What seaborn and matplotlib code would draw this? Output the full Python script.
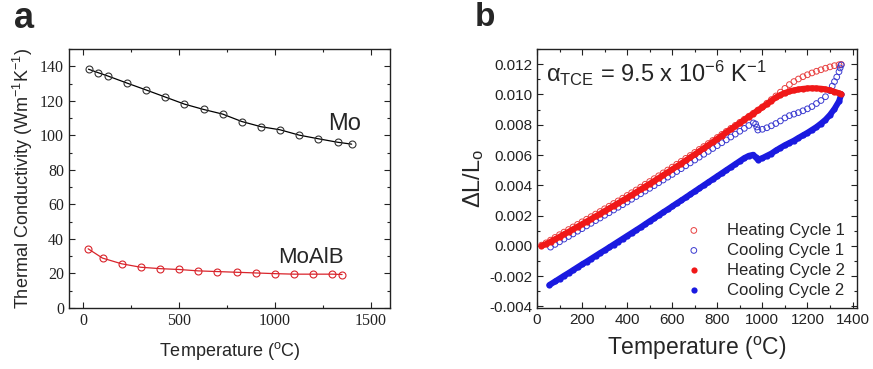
import numpy as np
import matplotlib
matplotlib.use("Agg")
import matplotlib.pyplot as plt
import seaborn as sns
from matplotlib.ticker import MultipleLocator, FormatStrFormatter

# panel a: thermal conductivity (W/mK)
mo_temp = [27, 77, 127, 227, 327, 427, 527, 627, 727, 827, 927, 1027, 1127, 1227, 1327, 1400]
mo_k = [138.3, 136.3, 134.4, 130.3, 126.3, 122.2, 118.1, 115.0, 112.3, 108.0, 105.0, 103.2,
        100.1, 98.0, 96.0, 94.9]
moalb_temp = [25, 100, 200, 300, 400, 500, 600, 700, 800, 900, 1000, 1100, 1200, 1300, 1350]
moalb_k = [34.3, 28.9, 25.6, 23.6, 22.8, 22.3, 21.5, 21.1, 20.7, 20.3, 19.9, 19.6, 19.6, 19.6, 19.4]

# panel b: dL/L0 (units of 1e-3)
heat_temp = list(range(20, 1341, 20)) + [1350]
heat1 = [0.05, 0.20, 0.38, 0.56, 0.74, 0.91, 1.08, 1.25, 1.42, 1.59,
         1.76, 1.93, 2.10, 2.27, 2.45, 2.62, 2.80, 2.97, 3.15, 3.33,
         3.51, 3.69, 3.88, 4.07, 4.25, 4.44, 4.63, 4.82, 5.01, 5.20,
         5.39, 5.58, 5.78, 5.97, 6.17, 6.37, 6.56, 6.76, 6.96, 7.16,
         7.36, 7.56, 7.76, 7.96, 8.16, 8.36, 8.56, 8.76, 8.97, 9.18,
         9.42, 9.66, 9.90, 10.15, 10.40, 10.65, 10.85, 11.02, 11.17, 11.30,
         11.42, 11.53, 11.63, 11.73, 11.82, 11.90, 11.96, 11.98]
heat2 = [0.00, 0.12, 0.28, 0.44, 0.60, 0.77, 0.93, 1.10, 1.27, 1.44,
         1.61, 1.78, 1.95, 2.12, 2.30, 2.47, 2.65, 2.82, 3.00, 3.18,
         3.36, 3.54, 3.73, 3.92, 4.10, 4.29, 4.48, 4.67, 4.86, 5.05,
         5.25, 5.44, 5.64, 5.84, 6.04, 6.24, 6.45, 6.65, 6.86, 7.07,
         7.28, 7.49, 7.70, 7.91, 8.12, 8.33, 8.54, 8.74, 8.95, 9.15,
         9.37, 9.59, 9.80, 9.97, 10.10, 10.20, 10.27, 10.33, 10.37, 10.40,
         10.41, 10.40, 10.38, 10.34, 10.27, 10.18, 10.08, 10.02]

cool1_temp = list(range(60, 961, 20)) + [970, 975, 980] + list(range(1000, 1301, 20)) + \
    [1310, 1320, 1330, 1340, 1345, 1350]
cool1 = [-0.08, 0.10, 0.27, 0.45, 0.62, 0.79, 0.97, 1.14, 1.32, 1.49,
         1.67, 1.84, 2.02, 2.19, 2.37, 2.55, 2.72, 2.90, 3.08, 3.26,
         3.44, 3.62, 3.80, 3.98, 4.17, 4.35, 4.54, 4.72, 4.91, 5.10,
         5.29, 5.48, 5.67, 5.86, 6.05, 6.24, 6.43, 6.62, 6.81, 7.00,
         7.19, 7.38, 7.57, 7.76, 7.95, 8.12,
         8.05, 7.85, 7.65,
         7.70, 7.80, 7.93, 8.08, 8.25, 8.45, 8.60, 8.70, 8.80, 8.92,
         9.05, 9.20, 9.40, 9.60, 9.85, 10.25,
         10.55, 10.85, 11.15, 11.50, 11.75, 11.95]

cool2_temp = [55] + list(range(80, 961, 20)) + [970, 980] + list(range(1000, 1341, 20)) + [1350]
cool2 = [-2.58, -2.35, -2.16, -1.97, -1.79, -1.60, -1.41, -1.22, -1.04, -0.85,
         -0.66, -0.47, -0.29, -0.10, 0.09, 0.28, 0.47, 0.66, 0.85, 1.04,
         1.23, 1.43, 1.63, 1.82, 2.02, 2.22, 2.41, 2.61, 2.81, 3.00,
         3.20, 3.40, 3.60, 3.80, 4.00, 4.20, 4.40, 4.60, 4.80, 5.00,
         5.20, 5.40, 5.60, 5.80, 5.95, 6.02,
         5.85, 5.70,
         5.80, 5.95, 6.10, 6.30, 6.48, 6.65, 6.80, 6.95, 7.13, 7.30,
         7.47, 7.66, 7.85, 8.08, 8.33, 8.65, 9.05, 9.55,
         10.00]

sns.set_style("ticks")
plt.rcParams["font.family"] = ["Liberation Sans", "DejaVu Sans"]
plt.rcParams["axes.unicode_minus"] = False
plt.rcParams["mathtext.fontset"] = "custom"
plt.rcParams["mathtext.rm"] = "Liberation Sans"
plt.rcParams["mathtext.it"] = "Liberation Sans:italic"
plt.rcParams["mathtext.sf"] = "Liberation Sans"

fig = plt.figure(figsize=(8.73, 3.69), dpi=100)
ax1 = fig.add_axes([0.079, 0.1653, 0.3677, 0.7019])
ax2 = fig.add_axes([0.6151, 0.1653, 0.3666, 0.7019])

# ---- panel a
sns.lineplot(x=mo_temp, y=mo_k, ax=ax1, color="black", lw=0.9, marker="o", ms=5,
             markerfacecolor="none", markeredgecolor="#333333", mew=0.8)
sns.lineplot(x=moalb_temp, y=moalb_k, ax=ax1, color="#d9242b", lw=0.9, marker="o", ms=5,
             markerfacecolor="none", markeredgecolor="#d9242b", mew=0.8)
ax1.set_xlim(-75, 1600)
ax1.set_ylim(0, 150)
ax1.xaxis.set_major_locator(MultipleLocator(500))
ax1.xaxis.set_minor_locator(MultipleLocator(250))
ax1.yaxis.set_major_locator(MultipleLocator(20))
ax1.yaxis.set_minor_locator(MultipleLocator(10))
ax1.tick_params(labelsize=11.5, labelfontfamily="Liberation Serif")
ax1.set_xlabel(r"Temperature ($^\mathrm{o}$C)", fontsize=13, labelpad=8)
ax1.set_ylabel(r"Thermal Conductivity (Wm$^\mathrm{-1}$K$^\mathrm{-1}$)", fontsize=13, labelpad=4)
ax1.text(1276, 103, "Mo", fontsize=17)
ax1.text(1016, 26, "MoAlB", fontsize=16)

# ---- panel b
red = "#f01818"
blue = "#1a1ae0"
h1 = np.array(heat1) / 1000
h2 = np.array(heat2) / 1000
c1 = np.array(cool1) / 1000
c2 = np.array(cool2) / 1000

ax2.plot(cool2_temp, c2, color=blue, lw=4.3, zorder=2, solid_capstyle="round")
ax2.plot(heat_temp, h2, color=red, lw=4.3, zorder=4, solid_capstyle="round")
sns.scatterplot(x=heat_temp, y=h1, ax=ax2, marker="o", s=17, fc="none", ec="#e84040",
                linewidth=0.7, label="Heating Cycle 1", zorder=3)
sns.scatterplot(x=cool1_temp, y=c1, ax=ax2, marker="o", s=17, fc="none", ec="#3a3ad0",
                linewidth=0.7, label="Cooling Cycle 1", zorder=3)
sns.scatterplot(x=heat_temp, y=h2, ax=ax2, marker="o", s=20, color=red, ec=red,
                linewidth=0, label="Heating Cycle 2", zorder=4)
sns.scatterplot(x=cool2_temp, y=c2, ax=ax2, marker="o", s=20, color=blue, ec=blue,
                linewidth=0, label="Cooling Cycle 2", zorder=2)
ax2.set_xlim(0, 1420)
ax2.set_ylim(-0.0041, 0.013)
ax2.xaxis.set_major_locator(MultipleLocator(200))
ax2.xaxis.set_minor_locator(MultipleLocator(100))
ax2.yaxis.set_major_locator(MultipleLocator(0.002))
ax2.yaxis.set_minor_locator(MultipleLocator(0.001))
ax2.yaxis.set_major_formatter(FormatStrFormatter("%.3f"))
ax2.tick_params(labelsize=11)
ax2.set_xlabel(r"Temperature ($^\mathrm{o}$C)", fontsize=16.5, labelpad=6)
ax2.set_ylabel(r"$\Delta$L/L$_\mathrm{o}$", fontsize=17, labelpad=2)
ax2.text(40, 0.0108, r"α$_\mathrm{TCE}$ = 9.5 x 10$^\mathrm{-6}$ K$^\mathrm{-1}$", fontsize=17)
ax2.legend(loc="lower right", bbox_to_anchor=(1.015, -0.025), frameon=False, fontsize=12,
           handletextpad=1.0, labelspacing=0.3, borderaxespad=0.6, markerscale=1.0)

for ax in (ax1, ax2):
    ax.tick_params(which="both", direction="in", top=True, right=True, width=0.8, colors="#222222")
    ax.tick_params(which="major", length=4)
    ax.tick_params(which="minor", length=2.5)
    for sp in ax.spines.values():
        sp.set_visible(True)
        sp.set_linewidth(1.0)
        sp.set_color("#222222")

fig.text(0.016, 0.925, "a", fontsize=26, fontweight="bold")
fig.text(0.544, 0.93, "b", fontsize=24, fontweight="bold")

fig.savefig("out.png", dpi=100)
